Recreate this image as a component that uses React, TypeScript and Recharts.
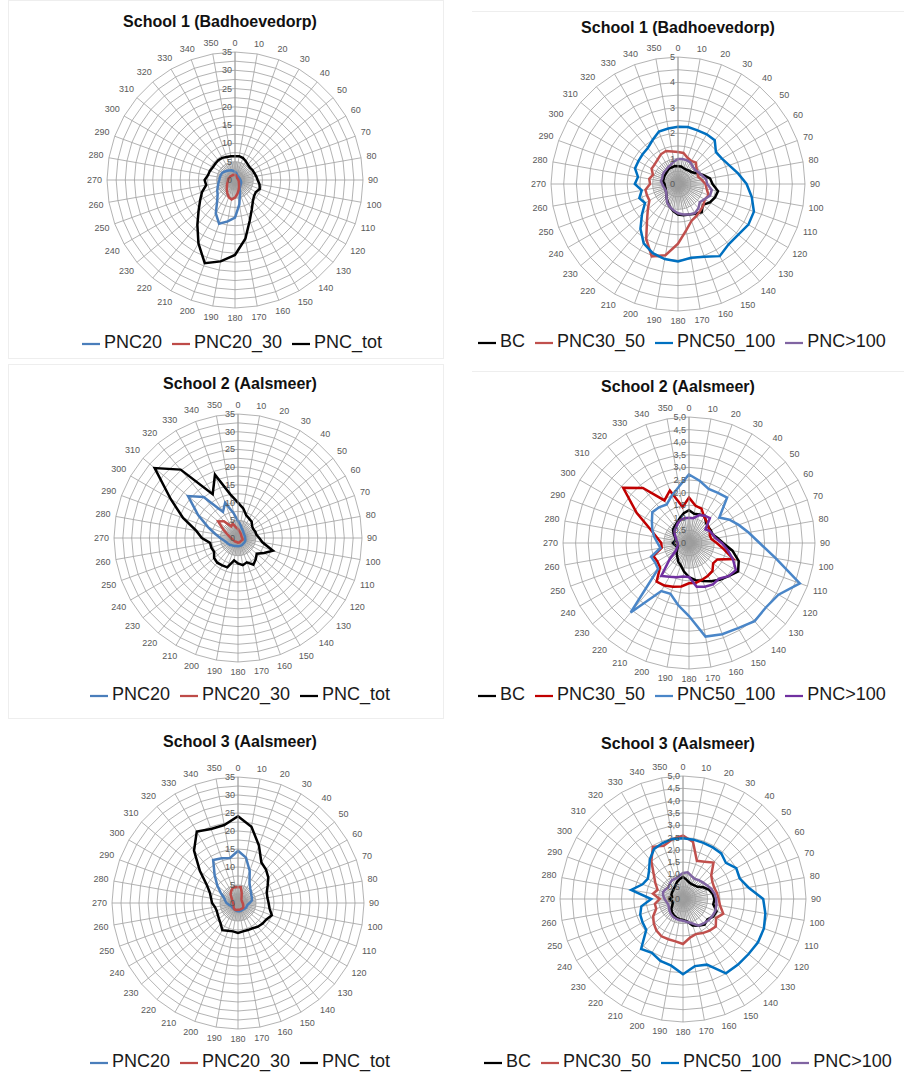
import { RadarChart, Radar, PolarGrid, PolarAngleAxis, PolarRadiusAxis, Legend } from 'recharts';

// wind direction sectors (degrees)
const directions = [0, 10, 20, 30, 40, 50, 60, 70, 80, 90, 100, 110, 120, 130, 140, 150, 160, 170,
  180, 190, 200, 210, 220, 230, 240, 250, 260, 270, 280, 290, 300, 310, 320, 330, 340, 350];

const ticksPnc = [0, 2.5, 5, 7.5, 10, 12.5, 15, 17.5, 20, 22.5, 25, 27.5, 30, 32.5, 35];
const ticksBc = [0, 0.5, 1, 1.5, 2, 2.5, 3, 3.5, 4, 4.5, 5];

// School 1 (Badhoevedorp)
const s1Pnc20 = [2.2, 2.0, 1.6, 1.4, 1.3, 1.3, 1.3, 1.3, 1.4, 1.5, 1.6, 1.8, 1.9, 2.0, 2.2, 2.6, 4.0, 6.8,
  10.3, 11.5, 12.7, 10.5, 7.6, 6.2, 5.6, 5.0, 4.6, 4.3, 4.2, 4.1, 4.0, 3.6, 3.3, 3.0, 2.8, 2.5];
const s1Pnc2030 = [1.4, 1.3, 1.1, 0.9, 0.8, 0.8, 0.8, 0.8, 0.8, 0.9, 1.0, 1.1, 1.2, 1.4, 1.7, 2.2, 2.9, 3.8,
  4.8, 5.4, 5.0, 4.2, 3.5, 2.9, 2.5, 2.2, 2.0, 1.9, 1.8, 1.7, 1.6, 1.6, 1.5, 1.5, 1.5, 1.4];
const s1PncTot = [6.5, 6.6, 6.4, 5.9, 5.5, 5.3, 5.5, 5.6, 5.9, 6.2, 6.8, 7.2, 6.6, 6.8, 7.6, 9.2, 11.8, 16.3,
  20.5, 22.6, 24.2, 20.0, 16.0, 13.0, 11.0, 9.6, 8.0, 8.3, 7.5, 7.3, 7.0, 7.0, 7.1, 7.0, 6.7, 6.6];
const s1Bc = [0.7, 0.7, 0.66, 0.65, 0.68, 0.72, 0.85, 1.05, 1.28, 1.36, 1.6, 1.55, 1.45, 1.28, 1.45, 1.35, 1.28, 1.25,
  1.2, 1.08, 0.95, 0.82, 0.7, 0.6, 0.55, 0.52, 0.52, 0.53, 0.6, 0.6, 0.62, 0.63, 0.66, 0.7, 0.7, 0.72];
const s1Pnc3050 = [1.26, 1.24, 1.1, 1.05, 1.1, 0.95, 0.9, 0.84, 0.95, 1.08, 1.15, 1.28, 1.22, 1.3, 1.37, 1.45, 1.55, 1.85,
  2.35, 2.85, 3.03, 2.5, 1.9, 1.55, 1.3, 1.3, 1.3, 1.1, 1.15, 1.05, 1.2, 1.2, 1.25, 1.35, 1.38, 1.3];
const s1Pnc50100 = [2.25, 2.28, 2.25, 2.26, 2.25, 1.95, 2.0, 2.15, 2.4, 2.7, 2.95, 3.18, 3.2, 3.1, 3.1, 3.28, 3.05, 2.95,
  3.05, 3.0, 2.9, 2.7, 2.3, 1.85, 1.5, 1.62, 1.45, 1.7, 1.6, 1.8, 1.8, 1.82, 1.85, 2.0, 2.2, 2.22];
const s1Pnc100 = [0.98, 1.0, 1.0, 0.98, 0.9, 0.87, 0.92, 1.0, 1.12, 1.15, 1.35, 1.34, 1.2, 1.12, 1.25, 1.33, 1.28, 1.22,
  1.15, 1.05, 0.95, 0.85, 0.7, 0.6, 0.55, 0.55, 0.58, 0.62, 0.68, 0.66, 0.7, 0.72, 0.73, 0.77, 0.81, 0.9];

// School 2 (Aalsmeer)
const s2Pnc20 = [4.8, 3.8, 3.0, 2.6, 2.3, 2.1, 2.0, 2.0, 2.0, 2.0, 2.1, 2.2, 2.2, 2.2, 2.2, 2.3, 2.3, 2.3,
  2.3, 2.3, 2.4, 2.5, 2.7, 3.0, 3.2, 3.5, 4.0, 5.0, 6.5, 9.0, 13.0, 18.4, 15.1, 8.5, 10.6, 7.1];
const s2Pnc2030 = [2.5, 2.0, 1.7, 1.5, 1.3, 1.2, 1.1, 1.1, 1.1, 1.2, 1.3, 1.4, 1.3, 1.2, 1.2, 1.2, 1.3, 1.3,
  1.3, 1.2, 1.2, 1.2, 1.3, 1.3, 1.4, 1.5, 1.7, 2.0, 2.5, 3.3, 4.8, 7.3, 6.2, 3.8, 4.3, 3.0];
const s2PncTot = [10.0, 8.5, 6.8, 6.3, 6.0, 5.2, 5.0, 5.2, 5.3, 6.0, 7.0, 10.5, 8.5, 6.9, 7.8, 8.7, 7.3, 7.8,
  7.2, 6.4, 8.8, 8.9, 9.1, 8.8, 7.8, 8.0, 8.0, 10.2, 12.0, 16.5, 21.9, 30.7, 25.2, 14.3, 19.0, 12.5];
const s2Bc = [1.3, 1.18, 1.2, 1.25, 1.05, 1.0, 1.0, 1.0, 1.15, 1.35, 1.75, 2.1, 2.25, 2.05, 1.9, 1.75, 1.6, 1.5,
  1.35, 1.15, 0.95, 0.85, 0.72, 0.64, 0.55, 0.48, 0.55, 0.64, 0.55, 0.57, 0.7, 0.83, 0.88, 0.94, 1.06, 1.2];
const s2Pnc3050 = [1.8, 1.5, 1.45, 1.2, 1.1, 1.0, 0.95, 0.88, 0.9, 1.1, 1.4, 1.87, 1.3, 1.25, 1.45, 1.5, 1.55, 1.6,
  1.6, 1.75, 1.85, 1.95, 2.0, 1.5, 1.45, 1.5, 1.1, 1.1, 1.3, 1.65, 2.4, 3.41, 2.85, 1.95, 2.22, 1.45];
const s2Pnc50100 = [2.72, 2.5, 2.28, 2.3, 2.35, 1.57, 1.85, 2.1, 2.4, 2.8, 3.5, 4.68, 4.1, 3.98, 4.05, 3.9, 3.85, 3.77,
  2.9, 2.5, 2.15, 2.2, 3.6, 1.6, 1.55, 1.6, 1.15, 1.25, 1.4, 1.55, 1.7, 1.9, 1.85, 1.77, 2.0, 2.28];
const s2Pnc100 = [1.0, 1.0, 1.18, 1.25, 1.29, 0.85, 0.95, 1.0, 1.08, 1.3, 1.55, 1.85, 2.15, 2.05, 1.85, 1.9, 1.85, 1.76,
  1.35, 1.35, 1.45, 1.55, 1.71, 1.0, 0.6, 0.5, 0.45, 0.45, 0.5, 0.55, 0.65, 0.75, 0.8, 0.9, 0.98, 1.0];

// School 3 (Aalsmeer)
const s3Pnc20 = [14.5, 12.8, 9.5, 6.4, 5.3, 4.7, 4.3, 4.1, 3.9, 3.2, 2.7, 2.6, 2.6, 2.4, 2.3, 2.3, 2.3, 2.3,
  2.3, 2.2, 2.1, 2.0, 2.0, 2.0, 2.0, 2.2, 2.6, 3.2, 3.6, 4.1, 5.5, 7.5, 10.1, 13.8, 13.2, 12.7];
const s3Pnc2030 = [4.4, 4.5, 3.0, 2.0, 1.5, 1.3, 1.2, 1.2, 1.2, 1.3, 1.4, 1.5, 1.7, 1.9, 1.9, 1.9, 1.9, 1.9,
  1.9, 2.0, 2.0, 2.0, 1.8, 1.6, 1.4, 1.3, 1.3, 1.4, 1.5, 1.7, 1.9, 2.4, 3.2, 3.8, 4.4, 4.5];
const s3PncTot = [24.1, 21.5, 17.0, 13.0, 12.1, 11.0, 9.5, 8.5, 8.3, 8.5, 8.9, 10.0, 9.1, 8.9, 8.6, 8.1, 8.0, 8.0,
  8.3, 8.0, 8.2, 8.7, 7.5, 6.9, 6.5, 6.3, 6.5, 7.2, 7.6, 8.3, 10.0, 13.8, 19.0, 22.9, 21.9, 22.0];
const s3Bc = [0.9, 0.8, 0.72, 0.7, 0.72, 0.77, 0.95, 1.12, 1.22, 1.28, 1.25, 1.45, 1.42, 1.3, 1.36, 1.25, 1.15, 0.92,
  0.85, 0.83, 0.8, 0.76, 0.7, 0.62, 0.5, 0.44, 0.45, 0.54, 0.45, 0.5, 0.52, 0.53, 0.57, 0.62, 0.73, 0.82];
const s3Pnc3050 = [2.58, 2.35, 1.65, 1.75, 1.93, 1.5, 1.38, 1.35, 1.4, 1.45, 1.53, 1.74, 1.55, 1.74, 1.68, 1.6, 1.52, 1.6,
  1.83, 1.75, 1.74, 1.75, 1.68, 1.55, 1.4, 1.16, 1.16, 0.95, 1.24, 1.1, 1.3, 1.55, 2.0, 2.45, 2.3, 2.47];
const s3Pnc50100 = [2.47, 2.45, 2.43, 2.42, 2.42, 2.28, 2.5, 2.45, 2.7, 3.26, 3.4, 3.5, 3.52, 3.48, 3.48, 3.49, 2.84, 2.77,
  3.06, 2.75, 2.68, 2.53, 2.65, 1.95, 1.9, 1.85, 1.72, 1.29, 2.14, 1.75, 1.65, 1.8, 2.1, 2.35, 2.42, 2.48];
const s3Pnc100 = [1.06, 1.1, 1.0, 0.94, 1.0, 1.05, 1.12, 1.22, 1.3, 1.35, 1.38, 1.4, 1.38, 1.35, 1.3, 1.25, 1.05, 0.95,
  0.88, 0.87, 0.85, 0.82, 0.78, 0.72, 0.66, 0.64, 0.68, 0.75, 0.82, 0.86, 0.8, 0.77, 0.83, 0.89, 0.88, 0.95];

// fine spokes drawn around the hub (every 5 degrees)
const hubSpokes = directions.flatMap((d) => [{ dir: d }, { dir: d + 5 }]);

const FONT = '"Liberation Sans", Arial, sans-serif';
const GRID = '#a0a0a0';
const TICK = '#595959';

interface SeriesDef {
  key: string;
  name: string;
  color: string;
  values: number[];
}

interface PanelProps {
  title: string;
  series: SeriesDef[];
  ticks: number[];
  max: number;
  hub: number;
  fmt: (v: number) => string;
  left: number;
  top: number;
  height: number;
  cx: number;
  cy: number;
  r: number;
  titleX: number;
  titleY: number;
  legendX: number;
  legendY: number;
}

function AngleTick(props: any) {
  const { x, y, payload } = props;
  const label = String(payload.value);
  const rad = (Number(payload.value) * Math.PI) / 180;
  const sx = Math.sin(rad);
  const sy = -Math.cos(rad);
  const ext = (Math.abs(sx) * label.length * 5) / 2 + (Math.abs(sy) * 9) / 2;
  return (
    <text x={x + sx * ext} y={y + sy * ext} textAnchor="middle" dominantBaseline="central"
      fontSize={9} fill={TICK} fontFamily={FONT}>
      {label}
    </text>
  );
}

function makeRadiusTick(fmt: (v: number) => string) {
  return (props: any) => {
    const { x, y, payload } = props;
    const label = fmt(Number(payload.value));
    if (!label) return <g />;
    return (
      <text x={x - 3} y={y} textAnchor="end" dominantBaseline="central"
        fontSize={9} fill={TICK} fontFamily={FONT}>
        {label}
      </text>
    );
  };
}

function RadarPanel(p: PanelProps) {
  const data = directions.map((d, i) => {
    const row: Record<string, number> = { dir: d };
    p.series.forEach((s) => { row[s.key] = s.values[i]; });
    return row;
  });
  const hubRadius = (p.r * p.hub) / p.max;

  return (
    <div style={{ position: 'absolute', left: p.left, top: p.top, width: 450, height: p.height }}>
      <div style={{
        position: 'absolute', left: p.titleX - 225, top: p.titleY - 10, width: 450,
        textAlign: 'center', fontFamily: FONT, fontWeight: 'bold', fontSize: 16, color: '#111',
        lineHeight: '20px',
      }}>
        {p.title}
      </div>
      {/* dense spokes around the centre, underneath the main chart */}
      <div style={{ position: 'absolute', left: 0, top: 0 }}>
        <RadarChart width={450} height={p.height} data={hubSpokes} cx={p.cx} cy={p.cy}
          outerRadius={hubRadius} margin={{ top: 0, right: 0, bottom: 0, left: 0 }}>
          <PolarGrid gridType="polygon" polarRadius={[]} stroke="#8c8c8c" strokeWidth={0.7} />
          <PolarAngleAxis dataKey="dir" tick={false} tickLine={false} axisLine={false} />
        </RadarChart>
      </div>
      <div style={{ position: 'absolute', left: 0, top: 0 }}>
        <RadarChart width={450} height={p.height} data={data} cx={p.cx} cy={p.cy}
          outerRadius={p.r} margin={{ top: 0, right: 0, bottom: 0, left: 0 }}>
          <PolarGrid gridType="polygon" stroke={GRID} strokeWidth={0.8} />
          <PolarAngleAxis dataKey="dir" tick={<AngleTick />} tickLine={false} axisLine={false} tickSize={5} />
          <PolarRadiusAxis angle={90} type="number" domain={[0, p.max]} ticks={p.ticks as any}
            tickCount={p.ticks.length} tick={makeRadiusTick(p.fmt)} tickLine={false}
            axisLine={{ stroke: GRID, strokeWidth: 0.8 }} />
          {p.series.map((s) => (
            <Radar key={s.key} dataKey={s.key} name={s.name} stroke={s.color} strokeWidth={2.5}
              fill="none" fillOpacity={0} dot={false} legendType="plainline" isAnimationActive={false} />
          ))}
          <Legend verticalAlign="bottom" align="left" iconType="plainline" iconSize={18}
            wrapperStyle={{
              top: p.legendY - 11, left: p.legendX, bottom: 'auto', width: 440 - p.legendX,
              lineHeight: '21px', whiteSpace: 'nowrap',
            }}
            formatter={(v: string) => (
              <span style={{ color: '#1a1a1a', fontSize: 18, fontFamily: FONT }}>{v}</span>
            )} />
        </RadarChart>
      </div>
    </div>
  );
}

const fmt5 = (v: number) => (v % 5 === 0 ? String(v) : '');
const fmtInt = (v: number) => (Number.isInteger(v) ? String(v) : '');
const fmtComma = (v: number) => v.toFixed(1).replace('.', ',');

const leftSeries = (a: number[], b: number[], c: number[]): SeriesDef[] => [
  { key: 'pnc20', name: 'PNC20', color: '#4A7EBB', values: a },
  { key: 'pnc2030', name: 'PNC20_30', color: '#BE4B48', values: b },
  { key: 'tot', name: 'PNC_tot', color: '#000000', values: c },
];

const rightSeries = (bc: number[], a: number[], b: number[], c: number[], cols: string[]): SeriesDef[] => [
  { key: 'bc', name: 'BC', color: '#000000', values: bc },
  { key: 'p3050', name: 'PNC30_50', color: cols[0], values: a },
  { key: 'p50100', name: 'PNC50_100', color: cols[1], values: b },
  { key: 'p100', name: 'PNC>100', color: cols[2], values: c },
];

const colsA = ['#C0504D', '#0070C0', '#8064A2'];
const colsB = ['#C00000', '#4A86C8', '#7030A0'];

export default function App() {
  return (
    <div style={{ position: 'absolute', left: 0, top: 0, width: 904, height: 1076, background: '#fff', overflow: 'hidden' }}>
      <div style={{ position: 'absolute', left: 8, top: 0, width: 434, height: 357, border: '1px solid #eeeeee' }} />
      <div style={{ position: 'absolute', left: 8, top: 364, width: 434, height: 353, border: '1px solid #eeeeee' }} />
      <div style={{ position: 'absolute', left: 472, top: 11, width: 432, height: 0, borderTop: '1px solid #eeeeee' }} />
      <div style={{ position: 'absolute', left: 472, top: 371, width: 432, height: 0, borderTop: '1px solid #eeeeee' }} />

      <RadarPanel title="School 1 (Badhoevedorp)" series={leftSeries(s1Pnc20, s1Pnc2030, s1PncTot)}
        ticks={ticksPnc} max={35} hub={5} fmt={fmt5} left={0} top={0} height={360}
        cx={235} cy={180} r={128} titleX={220} titleY={22} legendX={82} legendY={343} />
      <RadarPanel title="School 1 (Badhoevedorp)" series={rightSeries(s1Bc, s1Pnc3050, s1Pnc50100, s1Pnc100, colsA)}
        ticks={ticksBc} max={5} hub={1} fmt={fmtInt} left={450} top={0} height={360}
        cx={228} cy={184} r={127} titleX={228} titleY={28} legendX={28} legendY={342} />
      <RadarPanel title="School 2 (Aalsmeer)" series={leftSeries(s2Pnc20, s2Pnc2030, s2PncTot)}
        ticks={ticksPnc} max={35} hub={5} fmt={fmt5} left={0} top={360} height={360}
        cx={238} cy={178} r={124} titleX={240} titleY={24} legendX={90} legendY={335} />
      <RadarPanel title="School 2 (Aalsmeer)" series={rightSeries(s2Bc, s2Pnc3050, s2Pnc50100, s2Pnc100, colsB)}
        ticks={ticksBc} max={5} hub={1} fmt={fmtComma} left={450} top={360} height={360}
        cx={239} cy={183} r={126} titleX={228} titleY={27} legendX={28} legendY={335} />
      <RadarPanel title="School 3 (Aalsmeer)" series={leftSeries(s3Pnc20, s3Pnc2030, s3PncTot)}
        ticks={ticksPnc} max={35} hub={5} fmt={fmt5} left={0} top={720} height={356}
        cx={238} cy={183} r={126} titleX={240} titleY={22} legendX={90} legendY={342} />
      <RadarPanel title="School 3 (Aalsmeer)" series={rightSeries(s3Bc, s3Pnc3050, s3Pnc50100, s3Pnc100, colsA)}
        ticks={ticksBc} max={5} hub={1} fmt={fmtComma} left={450} top={720} height={356}
        cx={233} cy={179} r={123} titleX={228} titleY={24} legendX={34} legendY={342} />
    </div>
  );
}
